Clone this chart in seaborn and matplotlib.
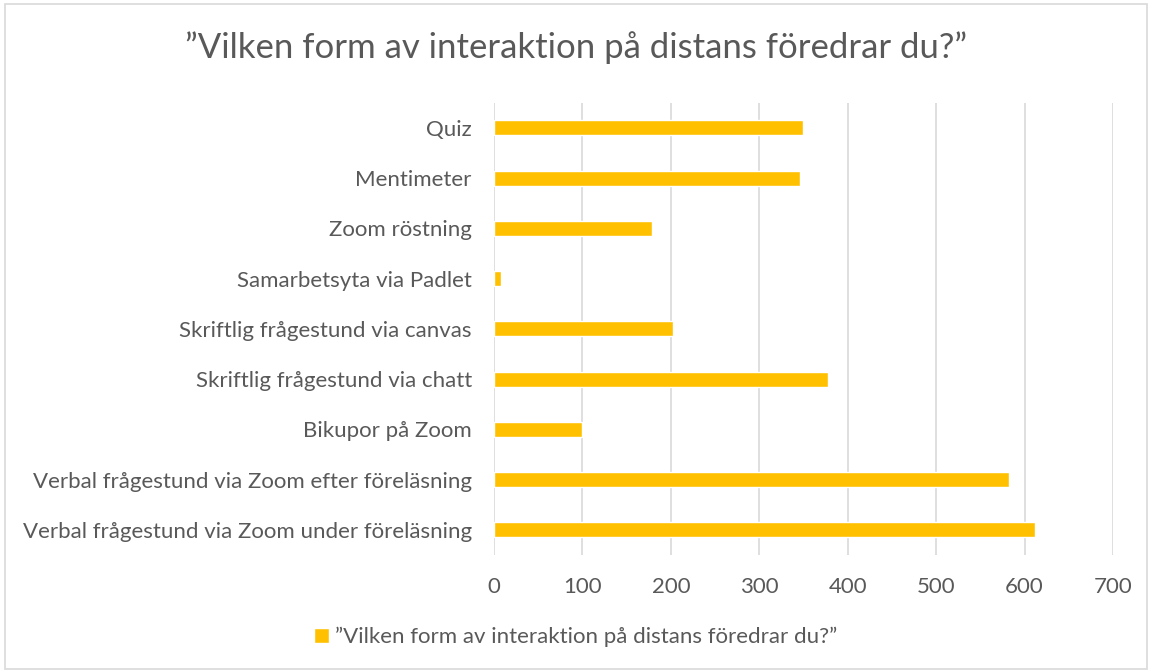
import pandas as pd
import matplotlib.pyplot as plt
import seaborn as sns
from matplotlib.patches import Rectangle

# data (top to bottom)
categories = [
    "Quiz",
    "Mentimeter",
    "Zoom röstning",
    "Samarbetsyta via Padlet",
    "Skriftlig frågestund via canvas",
    "Skriftlig frågestund via chatt",
    "Bikupor på Zoom",
    "Verbal frågestund via Zoom efter föreläsning",
    "Verbal frågestund via Zoom under föreläsning",
]
counts = [349, 346, 179, 8, 202, 378, 99, 583, 612]
x_ticks = [0, 100, 200, 300, 400, 500, 600, 700]
series_name = "”Vilken form av interaktion på distans föredrar du?”"

df = pd.DataFrame({"category": categories, "count": counts})

sns.set_theme(style="white")
plt.rcParams["font.family"] = ["Lato", "DejaVu Sans"]
text_color = "#595959"

fig = plt.figure(figsize=(11.52, 6.72), dpi=100)
ax = fig.add_axes([0.4288, 0.174, 0.5373, 0.673])

sns.barplot(data=df, x="count", y="category", orient="h", color="#FFC000",
            saturation=1, width=0.3, ax=ax, label=series_name)

ax.set_xlim(0, 700)
ax.set_xticks(x_ticks)
ax.set_ylim(len(categories) - 0.5, -0.5)
ax.xaxis.grid(True, color="#D9D9D9", linewidth=1.2)
ax.set_axisbelow(True)
for s in ax.spines.values():
    s.set_visible(False)
ax.set_xlabel("")
ax.set_ylabel("")
ax.tick_params(axis="both", length=0, labelsize=16, labelcolor=text_color)
ax.tick_params(axis="x", pad=16)
ax.tick_params(axis="y", pad=16)

fig.suptitle(series_name, x=0.5, y=1 - 48 / 672, va="center", fontsize=25, color=text_color)

leg = ax.legend(loc="center", bbox_to_anchor=(0.5, 1 - 637 / 672), bbox_transform=fig.transFigure,
                frameon=False, fontsize=16, handlelength=0.65, handleheight=0.65,
                handletextpad=0.3)
for t in leg.get_texts():
    t.set_color(text_color)

# thin outer chart border
fig.patches.append(Rectangle((0.004, 0.004), 0.992, 0.99, transform=fig.transFigure,
                             fill=False, edgecolor="#D9D9D9", linewidth=1.2))

fig.savefig("out.png", dpi=100)
